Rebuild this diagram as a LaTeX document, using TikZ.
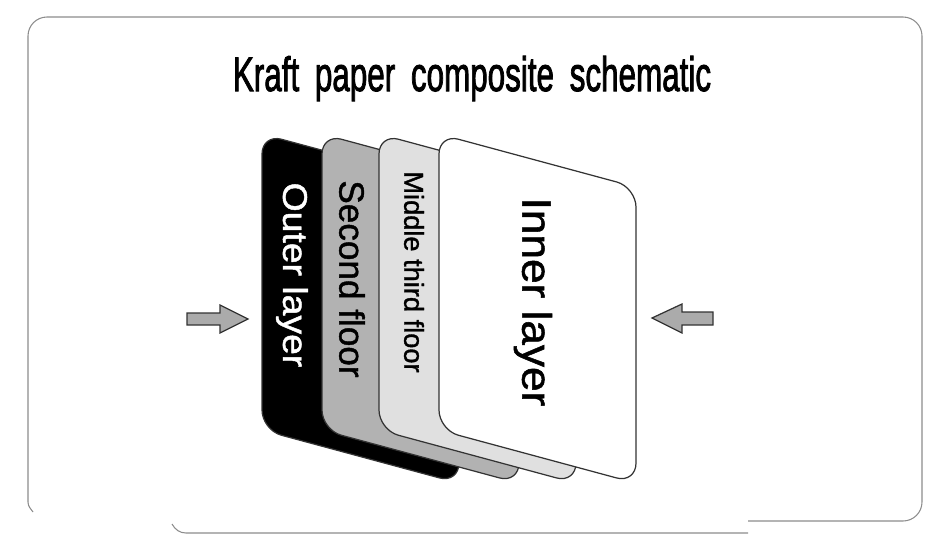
\documentclass[tikz,border=0pt]{standalone}
\usepackage{graphicx}
\usepackage{fontspec}
\setmainfont{Liberation Sans}
\newfontfamily\labfont[FakeBold=1.2]{Liberation Sans}
\newfontfamily\headfont[FakeBold=2.2]{Liberation Sans}
\usepackage{tikz}

\tikzset{
  frameline/.style={draw=black!45, line width=0.6pt},
  cardedge/.style={draw=black!80, line width=0.7pt, rounded corners=0.4cm},
  layerlab/.style={rotate=-90, inner sep=0pt},
  pusharrow/.style={draw=black!80, fill=black!33, line width=0.7pt, line join=miter}
}

\begin{document}
\begin{tikzpicture}[x=0.02cm, y=-0.02cm]
\useasboundingbox (0,0) rectangle (950,541);

% outline of the panel
\draw[frameline, rounded corners=0.38cm] (748,521) -| (922,17) -| (28,502);
\draw[frameline] (28,502) to[out=-90,in=125] (33,512);
\draw[frameline] (172,524) to[out=-60,in=180] (186,533) -- (748,533);

\node[anchor=base] (title) at (472,91)
  {\headfont\fontsize{27.5}{30}\selectfont\scalebox{0.65}[1]{Kraft\enspace paper\enspace composite\enspace schematic}};

% the four sheets, back to front
\foreach \xl/\shade in {262/black, 322/black!30, 379/black!12, 439/white} {
  \draw[cardedge, fill=\shade, shift={(\xl,134)}, yslant=-0.27] (0,0) rectangle (197,296);
}

\node[layerlab, text=white] (outer) at (292,275)
  {\labfont\fontsize{19.5}{21}\selectfont\scalebox{1.09}[1]{Outer layer}};
\node[layerlab] (second) at (352,279)
  {\labfont\fontsize{20}{22}\selectfont Second floor};
\node[layerlab] (middle) at (414,272)
  {\labfont\fontsize{15.5}{17}\selectfont Middle third floor};
\node[layerlab] (inner) at (533,302)
  {\labfont\fontsize{23.5}{25}\selectfont\scalebox{1.07}[1]{Inner layer}};

% pressing arrows
\draw[pusharrow] (187,313) -- (220,313) -- (220,305) -- (248,319) -- (220,333)
  -- (220,325) -- (187,325) -- cycle;
\draw[pusharrow] (713,312) -- (682,312) -- (682,304) -- (652,318) -- (682,333)
  -- (682,325) -- (713,325) -- cycle;
\end{tikzpicture}
\end{document}
